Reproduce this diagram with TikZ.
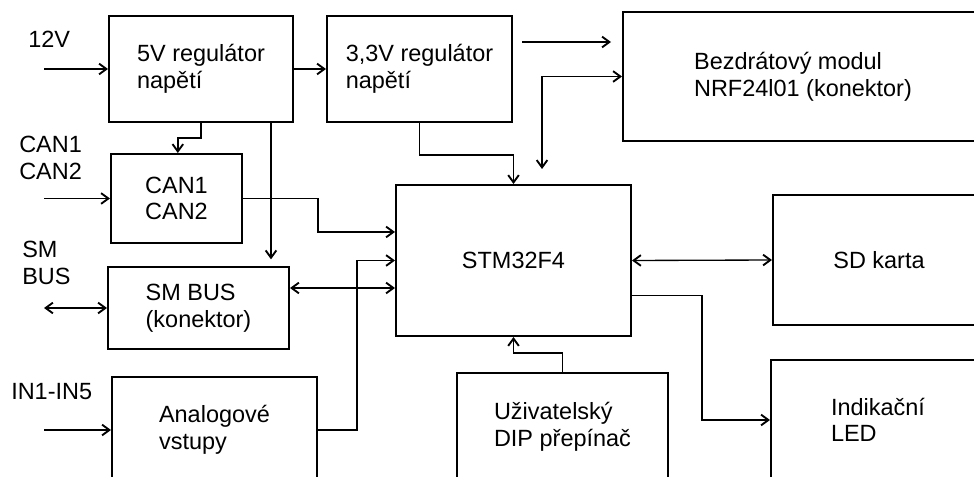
\documentclass[tikz,border=0pt]{standalone}
\usepackage{fontspec}
\setmainfont{Liberation Sans}
\usepackage{tikz}
\usetikzlibrary{arrows.meta}

\begin{document}
\begin{tikzpicture}[x=0.75pt, y=-0.75pt, font=\fontsize{17.6}{20}\selectfont]
            \tikzstyle{block} = [draw=black, line width=1.5pt, rectangle, align=left, inner sep=0pt];
            \tikzstyle{label} = [inner sep=0pt, anchor=west, align=left];
            \tikzstyle{arr} = [line width=1pt, -{Straight Barb[length=5.5pt, width=8pt, line width=1.4pt]}];
            \tikzstyle{biarr} = [line width=1pt, {Straight Barb[length=5.5pt, width=8pt, line width=1.4pt]}-{Straight Barb[length=5.5pt, width=8pt, line width=1.4pt]}];
            \useasboundingbox (0,0) rectangle (974,477);
            \clip (0,0) rectangle (974,477);

            % bloky
            \node [block, minimum width=138pt, minimum height=79.5pt] (reg5) at (201,69) {5V regulátor\\napětí};
            \node [block, minimum width=138.75pt, minimum height=79.5pt] (reg33) at (419.5,69) {3,3V regulátor\\napětí};
            \node [block, minimum width=270pt, minimum height=96.75pt] (nrf) at (803,76.5) {Bezdrátový modul\\NRF24l01 (konektor)};
            \node [block, minimum width=98.25pt, minimum height=66.75pt] (can) at (176.5,198.5) {CAN1\\CAN2};
            \node [block, minimum width=135.75pt, minimum height=61.5pt] (smbus) at (198.5,308) {SM BUS\\(konektor)};
            \node [block, minimum width=153.75pt, minimum height=79.5pt] (analog) at (214.5,430) {Analogové\\vstupy};
            \node [block, minimum width=176.25pt, minimum height=113.25pt] (stm) at (513.5,260.5) {STM32F4};
            \node [block, minimum width=158.25pt, minimum height=81pt] (dip) at (562.5,427) {Uživatelský\\DIP přepínač};
            \node [block, minimum width=159pt, minimum height=97.5pt] (sd) at (879,260) {SD karta};
            \node [block, minimum width=160.5pt, minimum height=90pt] (led) at (878,420) {Indikační\\LED};

            % vstupy vlevo
            \node [label] (l12) at (28,39) {12V};
            \node [label] (lcan) at (19,158) {CAN1\\CAN2};
            \node [label] (lsm) at (22,263) {SM\\BUS};
            \node [label] (lin) at (11,392) {IN1-IN5};

            \coordinate (i12) at (44,69);
            \coordinate (ican) at (44,198.5);
            \coordinate (ism) at (44,308);
            \coordinate (iin) at (44,430);
            \coordinate (o33) at (522,42);
            \coordinate (o33e) at (611,42);

            \draw [arr] (i12) to (reg5.west);
            \draw [arr] (ican) to (can.west);
            \draw [biarr] (ism) to (smbus.west);
            \draw [arr] (iin) to (analog.west);

            % napajeni
            \draw [arr] (reg5.east) to (reg33.west);
            \draw [arr] (reg5.south) -- ++(0,15) -| ([xshift=1pt]can.north);
            \draw [arr, shorten >=5pt] ([xshift=-17.25pt]reg5.south east) -- ([xshift=-17.25pt]reg5.south east |- smbus.north);
            \draw [arr] (reg33.south) -- ++(0,32) -| (stm.north);
            \draw [arr] (o33) to (o33e);

            % sbernice
            \draw [arr] (can.east) -- ++(75,0) |- ([yshift=21.4pt]stm.west);
            \draw [biarr] ([yshift=15pt]smbus.east) -- ([yshift=15pt]smbus.east -| stm.west);
            \draw [arr] (analog.east) -- ++(39,0) |- (stm.west);
            \draw [biarr] (nrf.west) -| ([xshift=21.4pt, yshift=11.25pt]stm.north);
            \draw [biarr] (stm.east) to (sd.west);
            \draw [arr] ([yshift=-26pt]stm.east) -- ++(70,0) |- (led.west);
            \draw [arr] (dip.north) -- ++(0,-19) -| (stm.south);
        \end{tikzpicture}
\end{document}
